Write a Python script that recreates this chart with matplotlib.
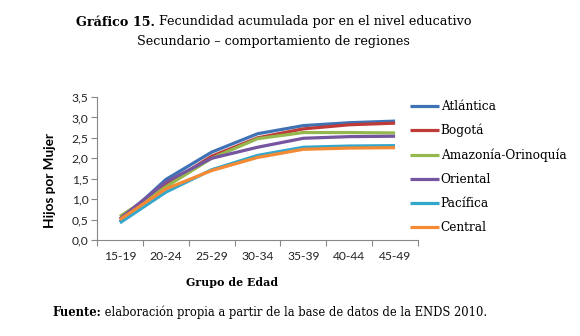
import numpy as np
import matplotlib
matplotlib.use("Agg")
import matplotlib.pyplot as plt

grupos = ['15-19', '20-24', '25-29', '30-34', '35-39', '40-44', '45-49']
atlantica = [0.45, 1.48, 2.15, 2.60, 2.80, 2.87, 2.91]
bogota = [0.50, 1.35, 2.05, 2.50, 2.72, 2.82, 2.86]
amazonia = [0.58, 1.30, 2.00, 2.48, 2.63, 2.63, 2.62]
oriental = [0.52, 1.42, 2.00, 2.27, 2.49, 2.53, 2.54]
pacifica = [0.42, 1.17, 1.72, 2.07, 2.27, 2.30, 2.31]
central = [0.50, 1.25, 1.70, 2.02, 2.22, 2.25, 2.26]

series = [
    ('Atlántica', atlantica, '#3f72b5'),
    ('Bogotá', bogota, '#be3b37'),
    ('Amazonía-Orinoquía', amazonia, '#94b84e'),
    ('Oriental', oriental, '#7554a0'),
    ('Pacífica', pacifica, '#33a8cc'),
    ('Central', central, '#f58a35'),
]

serif = ['DejaVu Serif']
sans = ['Lato', 'DejaVu Sans']

fig = plt.figure(figsize=(5.8, 3.36), dpi=100)
ax = fig.add_axes([97 / 580, 1 - 240 / 336, 321 / 580, 143 / 336])

x = np.arange(len(grupos))
for name, vals, color in series:
    ax.plot(x, vals, color=color, linewidth=2.3, label=name, solid_capstyle='butt')

ax.set_xlim(-0.5, len(grupos) - 0.5)
ax.set_ylim(0, 3.5)
ax.set_yticks(np.arange(0, 3.51, 0.5))
ax.set_yticklabels([f'{v:.1f}'.replace('.', ',') for v in np.arange(0, 3.51, 0.5)],
                   family=sans, fontsize=8.7, color='#222222')
ax.set_xticks(np.arange(-0.5, len(grupos), 1.0))
ax.set_xticklabels([])
ax.set_xticks(x, minor=True)
ax.set_xticklabels(grupos, minor=True, family=sans, fontsize=8.7, color='#222222')
ax.tick_params(axis='x', which='major', length=4, color='#888888', direction='out')
ax.tick_params(axis='x', which='minor', length=0, pad=8)
ax.tick_params(axis='y', length=4, color='#888888', direction='out', pad=2)

for s in ['top', 'right']:
    ax.spines[s].set_visible(False)
ax.spines['left'].set_color('#888888')
ax.spines['bottom'].set_color('#888888')

fig.text(50 / 580, 1 - 180 / 336, 'Hijos por Mujer', family=sans, fontsize=9.8,
         fontweight='bold', rotation=90, ha='center', va='center')
fig.text(232 / 580, 1 - 283 / 336, 'Grupo de Edad', family=serif, fontsize=7.9,
         fontweight='bold', ha='center', va='center')

leg = fig.legend(loc='upper left', bbox_to_anchor=(405 / 580, 1 - 95 / 336),
                 frameon=False, prop={'family': serif, 'size': 8.7},
                 handlelength=2.4, handletextpad=0.15, labelspacing=0.92,
                 borderaxespad=0)

# title: bold prefix followed by regular text
t1 = fig.text(76 / 580, 1 - 22 / 336, 'Gráfico 15.', family=serif, fontsize=9.15,
              fontweight='bold', ha='left', va='center')
ax.annotate(' Fecundidad acumulada por en el nivel educativo', xy=(1, 0.5),
            xycoords=t1, va='center', ha='left', family=serif, fontsize=9.15,
            annotation_clip=False)
fig.text(273 / 580, 1 - 41 / 336, 'Secundario – comportamiento de regiones',
         family=serif, fontsize=9.15, ha='center', va='center')

f1 = fig.text(52 / 580, 1 - 312 / 336, 'Fuente:', family=serif, fontsize=8.3,
              fontweight='bold', ha='left', va='center')
ax.annotate(' elaboración propia a partir de la base de datos de la ENDS 2010.',
            xy=(1, 0.5), xycoords=f1, va='center', ha='left', family=serif,
            fontsize=8.3, annotation_clip=False)

fig.savefig('out.png', dpi=100, facecolor='white')
